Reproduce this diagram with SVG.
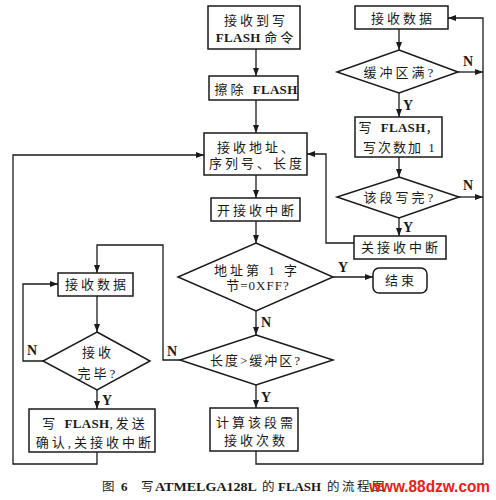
<svg xmlns="http://www.w3.org/2000/svg" width="496" height="500" viewBox="0 0 496 500">
<style>
.bx{fill:#fff;stroke:#1a1a1a;stroke-width:1.5}
.t{font-family:"Liberation Serif","Noto Sans CJK SC",serif;font-size:13px;fill:#1a1a1a;text-anchor:middle;letter-spacing:3px}
.l{font-weight:bold;letter-spacing:0.3px}
.yn{font-family:"Liberation Serif",serif;font-size:14px;font-weight:bold;fill:#1a1a1a}
.c{fill:none;stroke:#1a1a1a;stroke-width:1.3}
.cap{font-family:"Liberation Serif","Noto Sans CJK SC",serif;font-size:12.5px;fill:#1a1a1a}
.capl{font-family:"Liberation Serif",serif;font-size:13px;font-weight:bold;fill:#1a1a1a}
</style>
<defs>
<marker id="ah" markerUnits="userSpaceOnUse" markerWidth="9" markerHeight="7" refX="8" refY="3" orient="auto">
<path d="M0,0 L8,3 L0,6 z" fill="#1a1a1a"/>
</marker>
</defs>
<rect width="496" height="500" fill="#fff"/>
<g id="connectors">
<path class="c" marker-end="url(#ah)" d="M256,49 V76"/>
<path class="c" marker-end="url(#ah)" d="M256,100 V133"/>
<path class="c" marker-end="url(#ah)" d="M256,175 V198"/>
<path class="c" marker-end="url(#ah)" d="M256,221 V243"/>
<path class="c" marker-end="url(#ah)" d="M333,277 H373"/>
<path class="c" marker-end="url(#ah)" d="M256,311 V335"/>
<path class="c" marker-end="url(#ah)" d="M256,385 V408"/>
<path class="c" marker-end="url(#ah)" d="M256,451 V464 H483 V18 H448"/>
<path class="c" marker-end="url(#ah)" d="M399,29 V50"/>
<path class="c" marker-end="url(#ah)" d="M458,72 H483"/>
<path class="c" marker-end="url(#ah)" d="M399,93 V117"/>
<path class="c" marker-end="url(#ah)" d="M399,157 V177"/>
<path class="c" marker-end="url(#ah)" d="M459,197 H483"/>
<path class="c" marker-end="url(#ah)" d="M399,218 V236"/>
<path class="c" marker-end="url(#ah)" d="M354,243 H326 V154 H307"/>
<path class="c" marker-end="url(#ah)" d="M180,360 H163 V245 H97 V273"/>
<path class="c" marker-end="url(#ah)" d="M97,296 V332"/>
<path class="c" marker-end="url(#ah)" d="M43,361 H23 V284 H58"/>
<path class="c" marker-end="url(#ah)" d="M97,390 V409"/>
<path class="c" marker-end="url(#ah)" d="M97,452 V464 H13 V155 H204"/>
<text class="yn" x="338" y="272">Y</text>
<text class="yn" x="261" y="327">N</text>
<text class="yn" x="261" y="402">Y</text>
<text class="yn" x="463" y="66">N</text>
<text class="yn" x="403" y="110">Y</text>
<text class="yn" x="463" y="190">N</text>
<text class="yn" x="403" y="232">Y</text>
<text class="yn" x="167" y="356">N</text>
<text class="yn" x="27" y="355">N</text>
<text class="yn" x="102" y="405">Y</text>
</g>
<g id="n1"><rect class="bx" x="208" y="6" width="92" height="43"/>
<text class="t" x="256" y="24.5">接收到写</text><text class="t" x="256" y="42"><tspan class="l">FLASH </tspan>命令</text></g>
<g id="n2"><rect class="bx" x="209" y="76" width="89" height="24"/>
<text class="t" x="256" y="94">擦除 <tspan class="l">FLASH</tspan></text></g>
<g id="n3"><rect class="bx" x="204" y="133" width="103" height="42"/>
<text class="t" x="257" y="152">接收地址、</text><text class="t" x="257" y="168">序列号、长度</text></g>
<g id="n4"><rect class="bx" x="211" y="198" width="89" height="23"/>
<text class="t" x="257" y="215">开接收中断</text></g>
<g id="n5"><path class="bx" d="M256,243 L333,277 L256,311 L178,277 Z"/>
<text class="t" x="257" y="275">地址第 1 字</text><text class="t" x="258" y="290" style="letter-spacing:1px">节=0XFF?</text></g>
<g id="n6"><rect class="bx" x="373" y="268" width="54" height="25" rx="6"/>
<text class="t" x="401" y="285">结束</text></g>
<g id="n7"><path class="bx" d="M256,335 L333,360 L256,385 L180,360 Z"/>
<text class="t" x="256" y="365" style="letter-spacing:2px">长度&gt;缓冲区?</text></g>
<g id="n8"><rect class="bx" x="210" y="408" width="88" height="43"/>
<text class="t" x="256" y="427">计算该段需</text><text class="t" x="256" y="445">接收次数</text></g>
<g id="n9"><rect class="bx" x="355" y="6" width="93" height="23"/>
<text class="t" x="403" y="23">接收数据</text></g>
<g id="n10"><path class="bx" d="M399,50 L458,72 L399,93 L337,72 Z"/>
<text class="t" x="400" y="77">缓冲区满?</text></g>
<g id="n11"><rect class="bx" x="355" y="117" width="87" height="40"/>
<text class="t" x="400" y="132">写 <tspan class="l">FLASH</tspan>，</text><text class="t" x="400" y="152" style="letter-spacing:2px">写次数加 1</text></g>
<g id="n12"><path class="bx" d="M399,177 L459,197 L399,218 L337,197 Z"/>
<text class="t" x="400" y="202">该段写完?</text></g>
<g id="n13"><rect class="bx" x="354" y="236" width="92" height="23"/>
<text class="t" x="401" y="252">关接收中断</text></g>
<g id="n14"><rect class="bx" x="58" y="273" width="75" height="23"/>
<text class="t" x="97" y="289">接收数据</text></g>
<g id="n15"><path class="bx" d="M97,332 L150,361 L97,390 L43,361 Z"/>
<text class="t" x="98" y="357">接收</text><text class="t" x="98" y="378">完毕?</text></g>
<g id="n16"><rect class="bx" x="29" y="409" width="126" height="43"/>
<text class="t" x="95" y="428">写 <tspan class="l">FLASH</tspan>,发送</text><text class="t" x="95" y="447">确认,关接收中断</text></g>
<g id="caption">
<text class="cap" x="102" y="491">图</text>
<text class="capl" x="121" y="491">6</text>
<text class="cap" x="141" y="491">写</text>
<text class="capl" x="155" y="491" textLength="102" lengthAdjust="spacingAndGlyphs">ATMELGA128L</text>
<text class="cap" x="262" y="491">的</text>
<text class="capl" x="278" y="491" textLength="43" lengthAdjust="spacingAndGlyphs">FLASH</text>
<text class="cap" x="327" y="491">的</text>
<text class="cap" x="342" y="491">流</text>
<text class="cap" x="357" y="491">程</text>
<text class="cap" x="372" y="491">图</text>
<text x="369" y="492" textLength="121" lengthAdjust="spacingAndGlyphs" style="font-family:'Liberation Sans',sans-serif;font-size:16px;font-weight:bold;fill:#e8201c">www.88dzw.com</text>
</g>
</svg>
